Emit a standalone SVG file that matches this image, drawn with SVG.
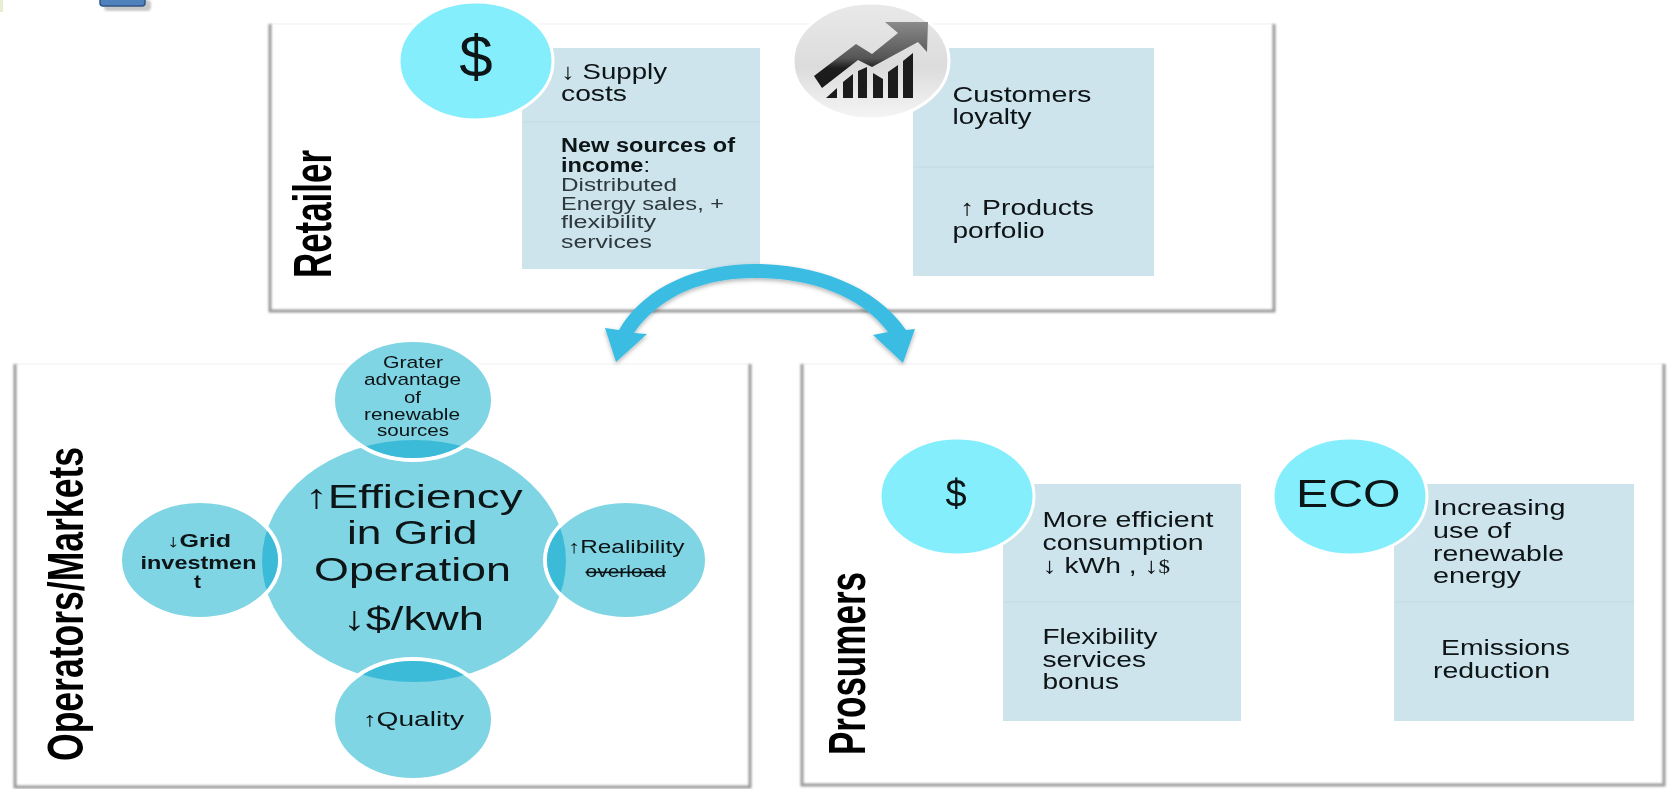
<svg xmlns="http://www.w3.org/2000/svg" width="1670" height="789" viewBox="0 0 1670 789">
<style>
text{font-family:"Liberation Sans",Arial,sans-serif;fill:#0e1214;filter:url(#t)}
.v{font-weight:bold;fill:#000}
.edge{fill:none;stroke:#9a9a9a;stroke-width:3;filter:url(#soft)}
.top{fill:none;stroke:#f4f4f4;stroke-width:1.5}
.box{fill:#cde4ec}
.div{stroke:#c6dee7;stroke-width:1.5}
.badge{fill:#84eefc;stroke:#fff;stroke-width:3}
.sat{fill:#7fd5e4;stroke:#fff;stroke-width:4}
.lens{fill:#3cbbd8}
.s22{font-size:22px}.s20{font-size:20px}.s18{font-size:18px}.s17{font-size:17px}.s33{font-size:34px}
.light{fill:#2e383d}
</style>
<defs>
<filter id="t" x="-5%" y="-10%" width="110%" height="120%"><feGaussianBlur stdDeviation="0.35"/></filter>
<filter id="soft" x="-5%" y="-5%" width="110%" height="110%"><feGaussianBlur stdDeviation="0.8"/></filter>
<filter id="shadow" x="-10%" y="-10%" width="120%" height="130%"><feDropShadow dx="0" dy="2" stdDeviation="2" flood-color="#000" flood-opacity="0.3"/></filter>
<linearGradient id="sphere" x1="0" y1="0" x2="0" y2="1"><stop offset="0" stop-color="#e9e9e9"/><stop offset="0.55" stop-color="#dcdcdc"/><stop offset="1" stop-color="#f5f5f5"/></linearGradient>
<linearGradient id="arrowfill" x1="0" y1="0" x2="0" y2="1"><stop offset="0" stop-color="#8a8a8a"/><stop offset="0.55" stop-color="#555"/><stop offset="0.7" stop-color="#1d1d1d"/><stop offset="1" stop-color="#1a1a1a"/></linearGradient>
<clipPath id="cc"><ellipse cx="414" cy="561" rx="152" ry="121"/></clipPath>
</defs>

<rect width="1670" height="789" fill="#fff"/>

<g id="corner-marks">
<rect x="0" y="0" width="3" height="12" fill="#e6efcf"/>
<rect x="104" y="0" width="47" height="11" rx="4" fill="#c8c8c8" filter="url(#soft)"/>
<rect x="100" y="-6" width="45" height="12" rx="3" fill="#4f81bd" stroke="#2f5587" stroke-width="1.5"/>
</g>

<g id="retailer">
<path class="top" d="M270 24H1274"/>
<path class="edge" d="M270 24V311H1274V24"/>
<text class="v" transform="translate(331 278) rotate(-90)" font-size="53" textLength="128" lengthAdjust="spacingAndGlyphs">Retailer</text>
<g id="retailer-money">
<rect class="box" x="522" y="48" width="238" height="221"/>
<line class="div" x1="522" y1="122" x2="760" y2="122"/>
<ellipse class="badge" cx="476" cy="61" rx="77" ry="59"/>
<text x="476" y="77" font-size="60" text-anchor="middle">$</text>
<text class="s22" x="561" y="79" textLength="106" lengthAdjust="spacingAndGlyphs">↓ Supply</text>
<text class="s22" x="561" y="101" textLength="66" lengthAdjust="spacingAndGlyphs">costs</text>
<text class="s20" x="561" y="152" textLength="174" lengthAdjust="spacingAndGlyphs" style="font-weight:bold">New sources of</text>
<text class="s20" x="561" y="172" textLength="89" lengthAdjust="spacingAndGlyphs"><tspan style="font-weight:bold">income</tspan>:</text>
<text class="s18 light" x="561" y="191" textLength="116" lengthAdjust="spacingAndGlyphs">Distributed</text>
<text class="s18 light" x="561" y="210" textLength="163" lengthAdjust="spacingAndGlyphs">Energy sales, +</text>
<text class="s18 light" x="561" y="228" textLength="95" lengthAdjust="spacingAndGlyphs">flexibility</text>
<text class="s18 light" x="561" y="248" textLength="91" lengthAdjust="spacingAndGlyphs">services</text>
</g>
<g id="retailer-growth">
<rect class="box" x="913" y="48" width="241" height="228"/>
<line class="div" x1="913" y1="167" x2="1154" y2="167"/>
<ellipse cx="871" cy="61" rx="78" ry="58" fill="url(#sphere)" stroke="#fff" stroke-width="3"/>
<path d="M814 76L856 44L872 54L898 33L885 22L928 22L927 52L918 42L872 67L858 60L822 88Z" fill="url(#arrowfill)"/>
<path d="M826 98L837 88V98ZM843 98V82L853 74V98ZM858 98V71L867 67L867 98ZM873 98V73L883 79V98ZM888 98V72L898 65V98ZM903 98V61L913 53V98Z" fill="#1c1c1c"/>
<text class="s22" x="952.5" y="102" textLength="139" lengthAdjust="spacingAndGlyphs">Customers</text>
<text class="s22" x="952.5" y="124" textLength="79" lengthAdjust="spacingAndGlyphs">loyalty</text>
<text class="s22" x="960" y="215" textLength="134" lengthAdjust="spacingAndGlyphs">↑ Products</text>
<text class="s22" x="952.5" y="238" textLength="92" lengthAdjust="spacingAndGlyphs">porfolio</text>
</g>
</g>

<g id="operators">
<path class="top" d="M15 364H750"/>
<path class="edge" d="M15 364V787H750V364"/>
<text class="v" transform="translate(83 761) rotate(-90)" font-size="50" textLength="314" lengthAdjust="spacingAndGlyphs">Operators/Markets</text>
<g id="efficiency">
<ellipse cx="414" cy="561" rx="152" ry="121" fill="#7fd5e4"/>
</g>
<g id="renewable-sources">
<ellipse class="sat" cx="413" cy="400" rx="80" ry="60"/>
<ellipse class="lens" cx="413" cy="400" rx="78" ry="58" clip-path="url(#cc)"/>
<text class="s17" x="383" y="368" textLength="60" lengthAdjust="spacingAndGlyphs">Grater</text>
<text class="s17" x="364" y="385" textLength="97" lengthAdjust="spacingAndGlyphs">advantage</text>
<text class="s17" x="404" y="403" textLength="17" lengthAdjust="spacingAndGlyphs">of</text>
<text class="s17" x="364" y="420" textLength="96" lengthAdjust="spacingAndGlyphs">renewable</text>
<text class="s17" x="377" y="436" textLength="72" lengthAdjust="spacingAndGlyphs">sources</text>
</g>
<g id="grid-investment">
<ellipse class="sat" cx="200" cy="560" rx="80" ry="59"/>
<ellipse class="lens" cx="200" cy="560" rx="78" ry="57" clip-path="url(#cc)"/>
<text class="s18" x="167" y="547" textLength="64" lengthAdjust="spacingAndGlyphs" style="font-weight:bold">↓Grid</text>
<text class="s18" x="140.5" y="569" textLength="116" lengthAdjust="spacingAndGlyphs" style="font-weight:bold">investmen</text>
<text class="s18" x="194" y="588" textLength="7" lengthAdjust="spacingAndGlyphs" style="font-weight:bold">t</text>
</g>
<g id="reliability">
<ellipse class="sat" cx="626" cy="560" rx="81" ry="59"/>
<ellipse class="lens" cx="626" cy="560" rx="79" ry="57" clip-path="url(#cc)"/>
<text class="s18" x="568" y="553" textLength="116.5" lengthAdjust="spacingAndGlyphs">↑Realibility</text>
<text x="585.5" y="577" font-size="16" textLength="80.5" lengthAdjust="spacingAndGlyphs" text-decoration="line-through">overload</text>
</g>
<g id="quality">
<ellipse class="sat" cx="413" cy="719.5" rx="80" ry="60.5"/>
<ellipse class="lens" cx="413" cy="719.5" rx="78" ry="58.5" clip-path="url(#cc)"/>
<text class="s20" x="362.5" y="726" textLength="101.5" lengthAdjust="spacingAndGlyphs">↑Quality</text>
</g>
<g id="efficiency-label">
<text class="s33" x="305" y="508" textLength="217.5" lengthAdjust="spacingAndGlyphs">↑Efficiency</text>
<text class="s33" x="347" y="544" textLength="130.5" lengthAdjust="spacingAndGlyphs">in Grid</text>
<text class="s33" x="314" y="581" textLength="197" lengthAdjust="spacingAndGlyphs">Operation</text>
<text class="s33" x="343" y="630" textLength="141" lengthAdjust="spacingAndGlyphs">↓$/kwh</text>
</g>
</g>

<g id="prosumers">
<path class="top" d="M802 364H1664"/>
<path class="edge" d="M802 364V785H1664V364"/>
<text class="v" transform="translate(865 755) rotate(-90)" font-size="52" textLength="183" lengthAdjust="spacingAndGlyphs">Prosumers</text>
<g id="prosumers-money">
<rect class="box" x="1003" y="484" width="238" height="237"/>
<line class="div" x1="1003" y1="602" x2="1241" y2="602"/>
<ellipse class="badge" cx="957" cy="496.5" rx="77" ry="58.5"/>
<text x="956" y="507" font-size="38" text-anchor="middle">$</text>
<text class="s22" x="1042.5" y="527" textLength="171" lengthAdjust="spacingAndGlyphs">More efficient</text>
<text class="s22" x="1042.5" y="550" textLength="161" lengthAdjust="spacingAndGlyphs">consumption</text>
<text class="s22" x="1042.5" y="573" textLength="127.5" lengthAdjust="spacingAndGlyphs">↓ kWh , ↓<tspan style="font-family:'Liberation Serif',serif" font-size="18">$</tspan></text>
<text class="s22" x="1042.5" y="644" textLength="115" lengthAdjust="spacingAndGlyphs">Flexibility</text>
<text class="s22" x="1042.5" y="667" textLength="103.5" lengthAdjust="spacingAndGlyphs">services</text>
<text class="s22" x="1042.5" y="689" textLength="76.5" lengthAdjust="spacingAndGlyphs">bonus</text>
</g>
<g id="prosumers-eco">
<rect class="box" x="1394" y="484" width="240" height="237"/>
<line class="div" x1="1394" y1="602" x2="1634" y2="602"/>
<ellipse class="badge" cx="1350" cy="496.5" rx="77" ry="58.5"/>
<text x="1296" y="507" font-size="38" textLength="104.5" lengthAdjust="spacingAndGlyphs">ECO</text>
<text class="s22" x="1433" y="515" textLength="132.5" lengthAdjust="spacingAndGlyphs">Increasing</text>
<text class="s22" x="1433" y="538" textLength="78" lengthAdjust="spacingAndGlyphs">use of</text>
<text class="s22" x="1433" y="561" textLength="131" lengthAdjust="spacingAndGlyphs">renewable</text>
<text class="s22" x="1433" y="583" textLength="88" lengthAdjust="spacingAndGlyphs">energy</text>
<text class="s22" x="1441" y="655" textLength="129" lengthAdjust="spacingAndGlyphs">Emissions</text>
<text class="s22" x="1433" y="678" textLength="117" lengthAdjust="spacingAndGlyphs">reduction</text>
</g>
</g>

<g id="connectors">
<path filter="url(#shadow)" fill="#3bbde3" d="M619 330C645 285 700 264 755 264C815 264 875 285 906 330L915 329L903 363L873 335L888 332C860 295 810 278 755 278C705 278 660 295 634 333L647 334L616 362L605 328Z"/>
</g>
</svg>
